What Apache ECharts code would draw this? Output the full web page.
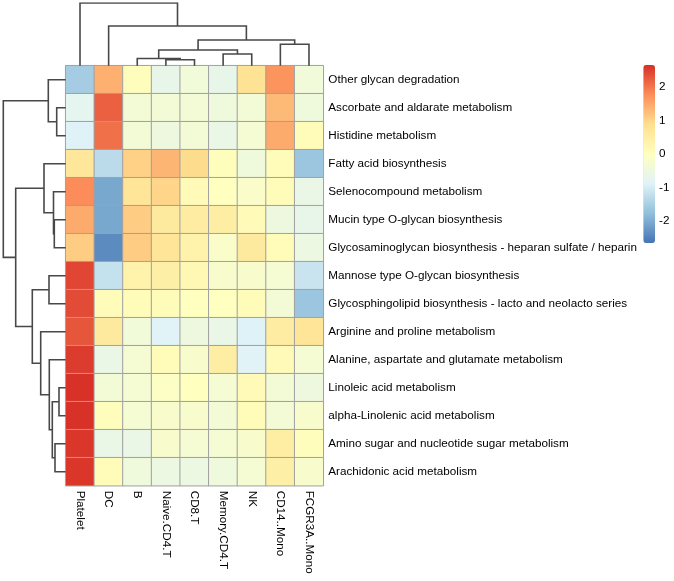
<!DOCTYPE html>
<html><head><meta charset="utf-8">
<script src="https://cdn.jsdelivr.net/npm/echarts@6/dist/echarts.min.js"></script>
<style>html,body{margin:0;padding:0;background:#fff}#c{width:674px;height:581px}</style>
</head><body><div id="c"></div>
<script>
const columns = ["Platelet","DC","B","Naive.CD4.T","CD8.T","Memory.CD4.T","NK","CD14..Mono","FCGR3A..Mono"];
const rows = [
  "Other glycan degradation",
  "Ascorbate and aldarate metabolism",
  "Histidine metabolism",
  "Fatty acid biosynthesis",
  "Selenocompound metabolism",
  "Mucin type O-glycan biosynthesis",
  "Glycosaminoglycan biosynthesis - heparan sulfate / heparin",
  "Mannose type O-glycan biosynthesis",
  "Glycosphingolipid biosynthesis - lacto and neolacto series",
  "Arginine and proline metabolism",
  "Alanine, aspartate and glutamate metabolism",
  "Linoleic acid metabolism",
  "alpha-Linolenic acid metabolism",
  "Amino sugar and nucleotide sugar metabolism",
  "Arachidonic acid metabolism"
];
const rowOther      = [-1.55, 1.4, 0.05, -0.65, -0.4, -0.65, 0.8, 1.7, -0.4];
const rowAscorbate  = [-0.75, 2.2, -0.35, -0.35, -0.35, -0.45, -0.35, 1.3, -0.45];
const rowHistidine  = [-0.9, 2.05, -0.35, -0.5, -0.35, -0.6, -0.3, 1.45, 0.1];
const rowFatty      = [0.7, -1.3, 1.05, 1.35, 0.93, 0.05, -0.45, 0.1, -1.65];
const rowSeleno     = [1.78, -2.05, 0.75, 1.0, 0.15, 0.0, -0.15, 0.1, -0.6];
const rowMucin      = [1.45, -2.05, 1.1, 0.6, 0.55, 0.5, 0.15, -0.5, -0.65];
const rowGlycosamin = [1.1, -2.4, 1.1, 0.75, 0.35, -0.15, 0.6, 0.1, -0.55];
const rowMannose    = [2.45, -1.2, 0.35, 0.45, 0.2, -0.2, -0.2, -0.3, -1.15];
const rowGlycosph   = [2.4, 0.1, 0.1, 0.1, 0.0, 0.0, 0.1, -0.35, -1.65];
const rowArginine   = [2.3, 0.6, -0.4, -0.85, -0.5, -0.6, -0.9, 0.55, 0.75];
const rowAlanine    = [2.55, -0.6, -0.3, 0.1, -0.2, 0.5, -0.85, 0.15, -0.3];
const rowLinoleic   = [2.65, -0.35, -0.3, -0.1, 0.0, -0.3, 0.15, -0.35, -0.5];
const rowAlphaLin   = [2.65, 0.05, -0.3, -0.2, -0.2, -0.35, 0.1, -0.35, -0.2];
const rowAminoSugar = [2.6, -0.6, -0.6, -0.2, -0.3, -0.3, -0.2, 0.5, 0.05];
const rowArachidon  = [2.6, 0.1, -0.45, -0.55, -0.55, -0.45, -0.3, 0.45, -0.2];
const values = [rowOther,rowAscorbate,rowHistidine,rowFatty,rowSeleno,rowMucin,rowGlycosamin,
  rowMannose,rowGlycosph,rowArginine,rowAlanine,rowLinoleic,rowAlphaLin,rowAminoSugar,rowArachidon];

// hclust-style merges: negative = leaf (1-based), positive = earlier merge (1-based), then height
const colMerges = [[-4,-5,6.0],[-3,1,7.2],[-6,-7,11.7],[2,3,15.7],[-8,-9,21.4],[4,5,25.7],[-2,6,39.7],[-1,7,62.7]];
const rowMerges = [[-12,-13,6.7],[-2,-3,9.0],[-14,-15,10.7],[-6,-7,11.4],[-5,4,12.2],[1,3,13.4],[-11,6,16.4],
  [-8,-9,16.7],[-1,2,17.4],[-4,5,21.7],[-10,7,25.0],[8,11,33.4],[10,12,50.0],[9,13,62.4]];
const legendTicks = [-2,-1,0,1,2];
const colorMin = -2.66, colorMax = 2.66;
const palette = ['#4575B4','#91BFDB','#E0F3F8','#FFFFBF','#FEE090','#FC8D59','#D73027'];

function dendro(merges, swap){
  const pos=[], ht=[], segs=[];
  const get = i => i<0 ? [-i-1+0.5, 0] : [pos[i-1], ht[i-1]];
  merges.forEach((m,k)=>{
    const a=get(m[0]), b=get(m[1]), h=m[2];
    let pts=[[a[0],a[1]],[a[0],h],[b[0],h],[b[0],b[1]]];
    if(swap) pts=pts.map(p=>[p[1],p[0]]);
    segs.push({coords:pts});
    pos[k]=(a[0]+b[0])/2; ht[k]=h;
  });
  return segs;
}

const heatData=[];
values.forEach((r,ri)=>r.forEach((v,ci)=>heatData.push([ci,ri,v])));

const FONT='Liberation Sans';
const FS=11.7;
const chart=echarts.init(document.getElementById('c'));
const hmLeft=65.7, hmTop=65.7, hmW=257.6, hmH=420;
chart.setOption({
  animation:false,
  backgroundColor:'#fff',
  grid:[
    {left:hmLeft, top:hmTop, width:hmW, height:hmH},
    {left:hmLeft, top:3, width:hmW, height:62.7},
    {left:3.3, top:hmTop, width:62.4, height:hmH},
    {left:643.3, top:65, width:11.7, height:178}
  ],
  xAxis:[
    {type:'category', gridIndex:0, data:columns, position:'bottom',
     axisLine:{show:false}, axisTick:{show:false}, splitLine:{show:false},
     axisLabel:{rotate:-90, fontSize:FS, color:'#000', margin:5, fontFamily:FONT}},
    {type:'value', gridIndex:1, min:0, max:9, show:false},
    {type:'value', gridIndex:2, min:0, max:62.4, inverse:true, show:false},
    {type:'value', gridIndex:3, min:0, max:1, show:false}
  ],
  yAxis:[
    {type:'category', gridIndex:0, data:rows, inverse:true, position:'right',
     axisLine:{show:false}, axisTick:{show:false}, splitLine:{show:false},
     axisLabel:{fontSize:FS, color:'#000', margin:5, fontFamily:FONT}},
    {type:'value', gridIndex:1, min:0, max:62.7, show:false},
    {type:'value', gridIndex:2, min:0, max:15, inverse:true, show:false},
    {type:'value', gridIndex:3, min:colorMin, max:colorMax, position:'right',
     axisLine:{show:false}, axisTick:{show:false}, splitLine:{show:false},
     axisLabel:{customValues:legendTicks, fontSize:FS, color:'#000', margin:4, fontFamily:FONT}}
  ],
  visualMap:{type:'continuous', seriesIndex:0, min:colorMin, max:colorMax, calculable:false,
    orient:'vertical', left:643.3, top:65, itemWidth:11.7, itemHeight:178, padding:0,
    hoverLink:false, inRange:{color:palette}},
  series:[
    {type:'heatmap', xAxisIndex:0, yAxisIndex:0, data:heatData,
     itemStyle:{borderColor:'#A0A0A0', borderWidth:1}, emphasis:{disabled:true}},
    {type:'lines', coordinateSystem:'cartesian2d', xAxisIndex:1, yAxisIndex:1, polyline:true,
     data:dendro(colMerges,false), lineStyle:{color:'#484848', width:1.6, opacity:1}, silent:true},
    {type:'lines', coordinateSystem:'cartesian2d', xAxisIndex:2, yAxisIndex:2, polyline:true,
     data:dendro(rowMerges,true), lineStyle:{color:'#484848', width:1.6, opacity:1}, silent:true}
  ]
});
</script></body></html>
